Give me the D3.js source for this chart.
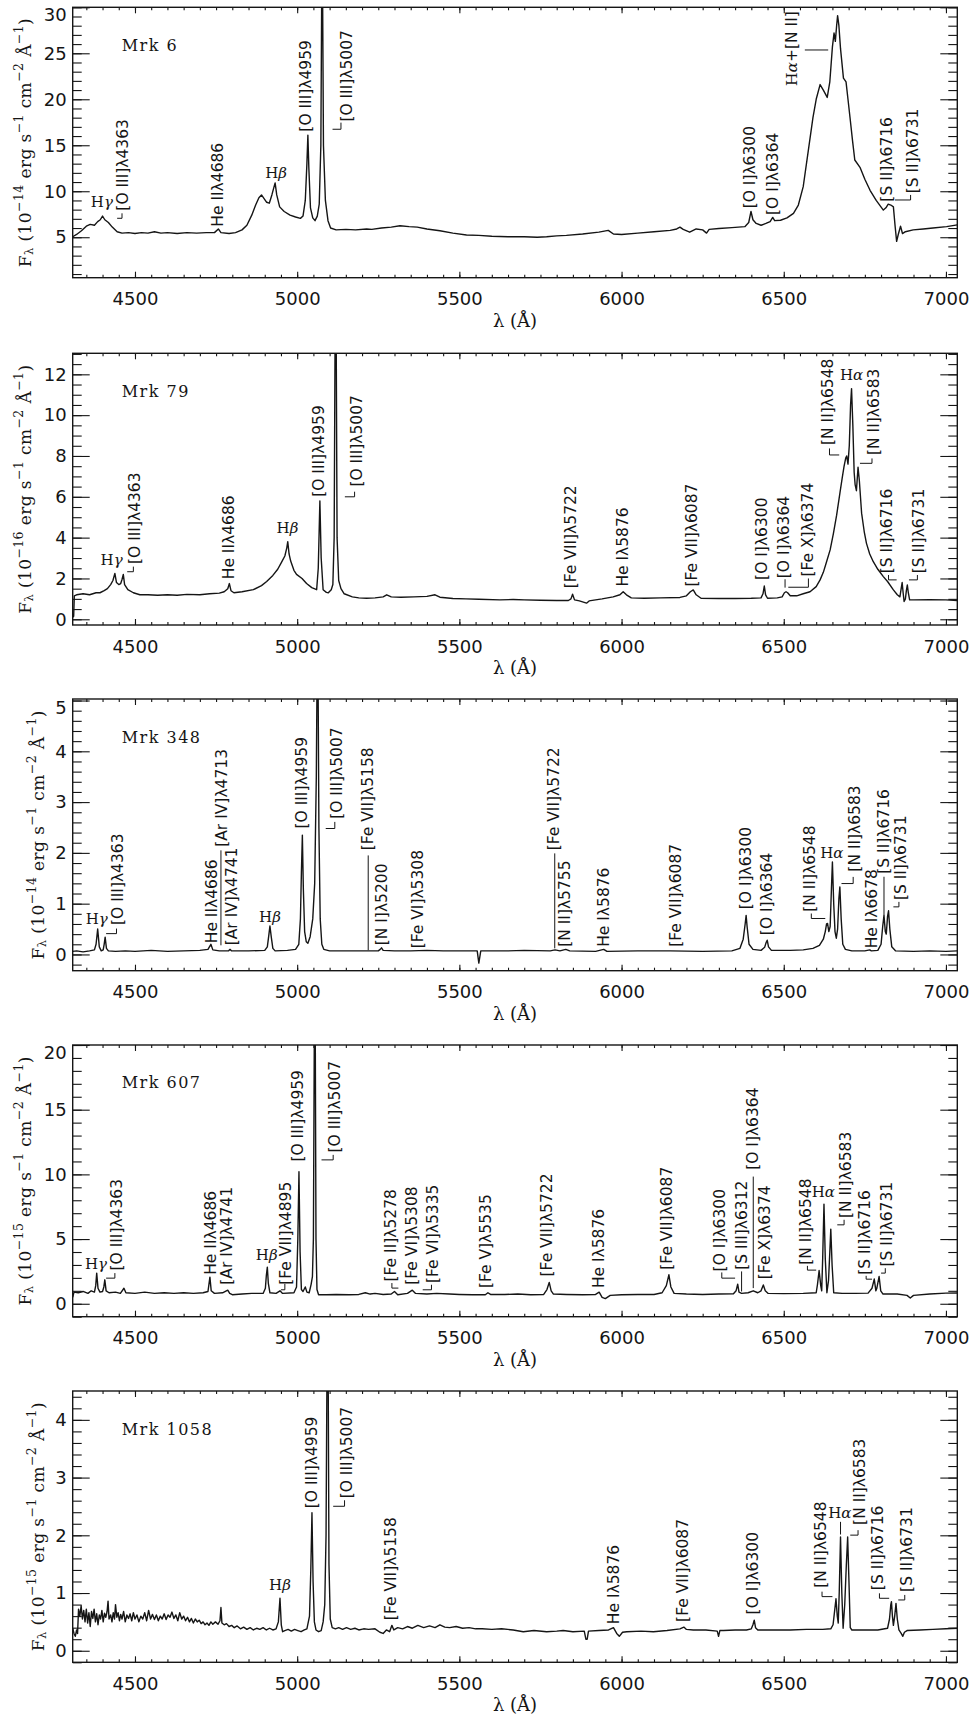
<!DOCTYPE html>
<html><head><meta charset="utf-8">
<script src="https://cdn.jsdelivr.net/npm/d3@7"></script>
<style>body{margin:0;background:#fff} svg{display:block}</style>
</head><body>
<svg id="c" width="971" height="1718"></svg>
<script>
// ---------------- DATA ----------------
const waveDomain = [4308, 7035];
const waveMajorTicks = [4500, 5000, 5500, 6000, 6500, 7000];
const waveMinorStep = 50;

const objectNames = ["Mrk 6", "Mrk 79", "Mrk 348", "Mrk 607", "Mrk 1058"];
const nameAnchors = [[4459, 25.28], [4459, 10.9], [4459, 4.17], [4459, 16.65], [4459, 3.74]];
const fluxExponents = ["\u221214", "\u221216", "\u221214", "\u221215", "\u221215"];
const fluxDomains = [[0.6, 30], [-0.28, 13.03], [-0.32, 5.03], [-1, 20], [-0.2, 4.5]];
const fluxMajorTicks = [[5, 10, 15, 20, 25, 30], [0, 2, 4, 6, 8, 10, 12], [0, 1, 2, 3, 4, 5], [0, 5, 10, 15, 20], [0, 1, 2, 3, 4]];
const fluxMinorSteps = [1, 0.5, 0.2, 1, 0.2];

const specMrk6 = [[4308,5.05],[4320,5.3],[4335,5.7],[4350,6.2],[4362,6.4],[4375,6.3],[4385,6.7],[4393,6.9],[4400,7.3],[4407,6.9],[4418,6.6],[4430,6.1],[4445,5.6],[4460,5.45],[4480,5.5],[4500,5.4],[4520,5.5],[4540,5.45],[4560,5.6],[4580,5.45],[4600,5.5],[4630,5.4],[4660,5.5],[4690,5.45],[4720,5.5],[4745,5.5],[4757,5.9],[4765,5.5],[4790,5.4],[4810,5.5],[4830,5.8],[4845,6.3],[4860,7.4],[4872,8.5],[4882,9.3],[4890,9.6],[4898,9.2],[4906,8.8],[4914,8.7],[4922,9.6],[4928,10.4],[4932,10.9],[4937,9.6],[4946,8.3],[4960,7.8],[4978,7.4],[4995,7.2],[5010,7.05],[5018,7.3],[5025,9.0],[5030,13.0],[5033,16.1],[5036,12.5],[5041,8.2],[5048,7.1],[5055,6.8],[5062,7.3],[5068,8.6],[5073,15],[5077,40],[5081,15],[5087,9.0],[5095,6.8],[5103,6.0],[5120,5.8],[5150,5.85],[5180,5.8],[5214,5.9],[5230,5.85],[5260,6.0],[5290,6.1],[5317,6.25],[5345,6.15],[5370,6.1],[5400,5.9],[5440,5.7],[5480,5.45],[5522,5.25],[5560,5.2],[5600,5.1],[5650,5.05],[5700,5.05],[5740,5.0],[5769,5.05],[5800,5.15],[5830,5.2],[5880,5.35],[5930,5.55],[5959,5.75],[5975,5.35],[6000,5.3],[6050,5.45],[6100,5.6],[6150,5.75],[6170,5.9],[6180,6.1],[6190,5.85],[6210,5.55],[6230,5.9],[6250,5.8],[6262,5.45],[6270,5.85],[6300,5.95],[6340,6.05],[6380,6.15],[6392,6.6],[6399,7.8],[6405,6.9],[6415,6.5],[6430,6.3],[6445,6.5],[6458,6.7],[6466,7.15],[6472,6.8],[6490,6.85],[6510,7.1],[6530,7.6],[6545,8.5],[6560,10.5],[6576,14.5],[6590,18.0],[6600,20.0],[6612,21.6],[6622,21.0],[6634,20.2],[6642,21.9],[6650,25.7],[6655,27.2],[6659,26.3],[6663,28.0],[6666,29.1],[6670,28.0],[6675,25.5],[6684,22.3],[6692,21.9],[6698,20.0],[6704,18.1],[6712,15.5],[6719,13.4],[6735,12.6],[6750,11.3],[6766,10.1],[6785,9.0],[6807,7.95],[6815,8.2],[6822,8.6],[6830,8.5],[6838,8.3],[6843,6.3],[6848,4.55],[6853,5.3],[6860,6.2],[6866,5.4],[6875,5.6],[6899,5.8],[6930,5.9],[6960,6.0],[7002,6.15],[7035,6.35]];

const specMrk79 = [[4308,0.1],[4311,0.15],[4313,1.15],[4320,1.2],[4340,1.25],[4360,1.2],[4380,1.3],[4392,1.3],[4405,1.4],[4415,1.5],[4425,1.7],[4432,1.9],[4438,2.25],[4443,1.8],[4450,1.7],[4456,1.75],[4460,1.95],[4464,2.2],[4468,1.7],[4478,1.45],[4495,1.3],[4515,1.2],[4540,1.2],[4570,1.18],[4600,1.2],[4630,1.18],[4660,1.22],[4700,1.2],[4730,1.25],[4760,1.28],[4775,1.35],[4786,1.5],[4791,1.75],[4796,1.4],[4805,1.3],[4830,1.35],[4865,1.45],[4890,1.65],[4906,1.85],[4925,2.15],[4940,2.45],[4952,2.8],[4962,3.1],[4968,3.5],[4971,3.8],[4975,3.2],[4980,2.85],[4990,2.4],[4998,2.2],[5015,2.0],[5029,1.75],[5045,1.55],[5060,1.45],[5065,2.5],[5070,5.8],[5074,3.0],[5080,1.45],[5090,1.32],[5096,1.3],[5105,1.45],[5110,1.7],[5114,4.0],[5118.6,20],[5123,4.0],[5128,1.9],[5135,1.5],[5145,1.25],[5170,1.1],[5190,1.05],[5214,1.03],[5240,1.05],[5265,1.1],[5276,1.2],[5290,1.1],[5320,1.08],[5360,1.1],[5400,1.12],[5425,1.2],[5440,1.08],[5480,1.02],[5520,1.0],[5560,0.98],[5625,0.95],[5666,0.97],[5700,0.95],[5750,0.93],[5800,0.92],[5836,0.92],[5844,1.0],[5849,1.23],[5855,0.95],[5870,0.9],[5892,0.79],[5900,0.9],[5940,1.0],[5974,1.1],[5995,1.2],[6005,1.35],[6015,1.2],[6030,1.05],[6070,1.03],[6120,1.05],[6180,1.07],[6200,1.15],[6212,1.35],[6221,1.44],[6230,1.2],[6245,1.03],[6300,1.02],[6350,1.02],[6400,1.03],[6430,1.05],[6436,1.25],[6440,1.63],[6444,1.2],[6450,1.03],[6480,1.05],[6495,1.1],[6502,1.3],[6507,1.35],[6512,1.3],[6520,1.15],[6540,1.15],[6560,1.25],[6581,1.35],[6600,1.6],[6612,1.93],[6622,2.3],[6632,2.82],[6643,3.4],[6653,4.2],[6663,5.1],[6673,6.17],[6680,6.9],[6686,7.5],[6691,7.9],[6694,8.0],[6698,7.6],[6702,8.5],[6706,10.5],[6709,11.3],[6713,9.5],[6717,7.2],[6720,6.6],[6724,6.3],[6729,7.45],[6733,6.8],[6740,5.2],[6748,4.3],[6755,3.72],[6765,3.2],[6776,2.82],[6790,2.45],[6807,2.09],[6820,1.85],[6838,1.44],[6850,1.2],[6858,1.1],[6862,1.5],[6865,1.8],[6868,1.3],[6871,0.87],[6875,1.0],[6878,1.4],[6881,1.68],[6884,1.3],[6888,0.95],[6900,0.95],[6950,0.96],[7000,0.95],[7035,0.92]];

const specMrk348 = [[4308,0.06],[4320,0.07],[4340,0.05],[4360,0.07],[4375,0.09],[4380,0.2],[4385,0.5],[4390,0.15],[4396,0.07],[4402,0.09],[4405,0.2],[4408,0.34],[4412,0.12],[4418,0.07],[4440,0.06],[4470,0.07],[4500,0.06],[4550,0.08],[4600,0.06],[4650,0.07],[4700,0.08],[4725,0.1],[4734,0.2],[4740,0.09],[4760,0.07],[4788,0.07],[4793,0.1],[4798,0.07],[4850,0.07],[4900,0.08],[4908,0.15],[4913,0.4],[4916,0.56],[4920,0.35],[4925,0.12],[4932,0.07],[4970,0.08],[4995,0.1],[5005,0.2],[5010,0.7],[5013,1.6],[5016,2.35],[5019,1.3],[5023,0.45],[5028,0.25],[5033,0.22],[5040,0.35],[5048,0.7],[5054,1.4],[5059,3.5],[5063,7],[5067,2.5],[5071,0.7],[5076,0.2],[5082,0.1],[5100,0.07],[5150,0.07],[5200,0.07],[5250,0.07],[5256,0.1],[5260,0.13],[5265,0.08],[5300,0.07],[5350,0.07],[5400,0.08],[5450,0.07],[5500,0.07],[5555,0.07],[5560,-0.17],[5566,0.07],[5650,0.07],[5700,0.08],[5780,0.07],[5795,0.09],[5810,0.07],[5828,0.1],[5840,0.07],[5920,0.06],[5945,0.1],[5955,0.06],[6050,0.07],[6150,0.07],[6250,0.06],[6340,0.07],[6365,0.12],[6375,0.3],[6381,0.6],[6384,0.77],[6387,0.55],[6393,0.2],[6405,0.1],[6430,0.08],[6441,0.14],[6446,0.24],[6449,0.28],[6453,0.15],[6462,0.08],[6520,0.08],[6560,0.09],[6590,0.12],[6610,0.18],[6622,0.3],[6628,0.45],[6632,0.6],[6635,0.61],[6639,0.45],[6643,0.55],[6647,1.3],[6650,1.82],[6654,1.0],[6658,0.45],[6662,0.32],[6666,0.5],[6670,1.1],[6673,1.33],[6677,0.7],[6682,0.2],[6690,0.1],[6710,0.07],[6750,0.07],[6765,0.09],[6770,0.07],[6790,0.08],[6800,0.2],[6805,0.55],[6809,0.77],[6813,0.45],[6816,0.4],[6820,0.75],[6823,0.86],[6827,0.5],[6833,0.15],[6845,0.07],[6900,0.06],[6950,0.07],[7000,0.06],[7035,0.07]];

const specMrk607 = [[4308,0.5],[4312,0.9],[4325,0.85],[4340,0.95],[4355,0.8],[4365,1.0],[4375,0.9],[4379,1.4],[4382,2.37],[4386,1.2],[4392,0.9],[4400,0.95],[4404,1.3],[4407,1.85],[4411,1.0],[4420,0.85],[4440,0.9],[4455,0.8],[4466,1.2],[4472,0.85],[4500,0.8],[4530,0.9],[4560,0.8],[4590,0.85],[4620,0.8],[4650,0.85],[4680,0.8],[4710,0.85],[4725,0.95],[4728,1.5],[4731,2.06],[4735,1.0],[4745,0.8],[4770,0.85],[4786,1.05],[4792,0.8],[4800,0.7],[4830,0.75],[4860,0.8],[4895,0.8],[4902,1.2],[4905,2.2],[4908,2.83],[4911,1.6],[4916,0.85],[4935,0.8],[4947,1.0],[4955,0.8],[4990,0.85],[4998,1.3],[5002,5],[5005.5,10.2],[5009,4],[5013,1.1],[5018,0.95],[5025,1.3],[5030,0.9],[5037,0.85],[5043,1.5],[5047,2.1],[5050,5],[5054.5,30],[5058,5],[5061,1.1],[5066,0.7],[5090,0.7],[5120,0.72],[5160,0.7],[5190,0.72],[5210,0.85],[5225,0.75],[5240,0.8],[5265,0.72],[5290,0.75],[5300,0.95],[5310,0.7],[5340,0.8],[5355,1.05],[5365,0.8],[5400,0.75],[5430,0.8],[5470,0.75],[5500,0.72],[5540,0.7],[5580,0.7],[5588,0.85],[5596,0.72],[5640,0.72],[5680,0.75],[5720,0.7],[5760,0.72],[5770,1.1],[5777,1.65],[5783,1.0],[5790,0.75],[5830,0.72],[5880,0.7],[5920,0.72],[5931,0.9],[5940,0.5],[5950,0.4],[5965,0.65],[6000,0.7],[6050,0.72],[6100,0.72],[6125,0.85],[6138,1.4],[6146,2.24],[6152,1.3],[6162,0.8],[6200,0.75],[6250,0.72],[6300,0.75],[6345,0.77],[6353,1.0],[6358,1.52],[6362,0.9],[6370,0.8],[6390,0.85],[6406,1.0],[6420,0.85],[6430,1.0],[6437,1.45],[6443,1.0],[6452,0.8],[6500,0.78],[6560,0.8],[6600,0.85],[6604,1.5],[6609,2.57],[6614,1.4],[6617,1.0],[6620,3.5],[6624,7.7],[6628,3.5],[6633,0.85],[6638,1.8],[6642,4.0],[6645,5.77],[6649,3.0],[6654,0.85],[6680,0.8],[6720,0.8],[6760,0.82],[6772,1.2],[6779,1.91],[6784,1.0],[6787,1.2],[6794,2.11],[6799,1.0],[6806,0.75],[6850,0.75],[6880,0.65],[6890,0.45],[6900,0.65],[6950,0.75],[7000,0.82],[7035,0.83]];

const specMrk1058 = [[4308,0.39],[4312,0.3],[4316,0.25],[4320,0.36],[4323,0.3],[4326,0.72],[4330,0.6],[4334,0.78],[4338,0.55],[4342,0.7],[4346,0.5],[4350,0.72],[4354,0.48],[4358,0.66],[4362,0.42],[4366,0.68],[4370,0.56],[4374,0.72],[4378,0.5],[4382,0.64],[4386,0.45],[4390,0.62],[4394,0.55],[4398,0.7],[4402,0.5],[4406,0.65],[4410,0.58],[4414,0.68],[4417,0.86],[4420,0.55],[4425,0.62],[4429,0.5],[4433,0.66],[4437,0.55],[4440,0.8],[4444,0.58],[4448,0.66],[4452,0.52],[4456,0.63],[4460,0.55],[4465,0.68],[4470,0.5],[4475,0.62],[4480,0.56],[4485,0.64],[4490,0.52],[4495,0.66],[4500,0.55],[4506,0.62],[4512,0.5],[4518,0.6],[4524,0.55],[4530,0.66],[4536,0.52],[4542,0.7],[4548,0.55],[4554,0.63],[4560,0.54],[4566,0.62],[4572,0.52],[4578,0.6],[4584,0.55],[4590,0.64],[4596,0.54],[4602,0.62],[4608,0.58],[4614,0.67],[4620,0.56],[4626,0.62],[4632,0.52],[4638,0.66],[4644,0.55],[4650,0.6],[4656,0.52],[4662,0.58],[4668,0.5],[4674,0.56],[4680,0.48],[4686,0.55],[4692,0.5],[4698,0.53],[4704,0.47],[4710,0.5],[4716,0.45],[4722,0.48],[4728,0.44],[4734,0.5],[4740,0.46],[4748,0.5],[4756,0.46],[4762,0.52],[4765,0.75],[4768,0.48],[4775,0.45],[4782,0.47],[4790,0.42],[4798,0.44],[4806,0.4],[4815,0.43],[4825,0.38],[4835,0.41],[4845,0.37],[4855,0.4],[4865,0.36],[4875,0.39],[4885,0.37],[4895,0.4],[4905,0.36],[4915,0.39],[4925,0.36],[4935,0.38],[4942,0.5],[4947,0.91],[4951,0.45],[4955,0.33],[4962,0.35],[4972,0.37],[4982,0.34],[4992,0.37],[5002,0.35],[5012,0.33],[5022,0.36],[5030,0.38],[5038,0.6],[5042,1.4],[5045.6,2.39],[5049,1.2],[5053,0.5],[5058,0.36],[5066,0.33],[5074,0.35],[5080,0.5],[5085,0.8],[5089,2.0],[5094,7],[5098,1.5],[5102,0.55],[5108,0.4],[5118,0.38],[5128,0.4],[5140,0.37],[5152,0.4],[5165,0.37],[5178,0.39],[5190,0.36],[5205,0.38],[5220,0.37],[5240,0.38],[5255,0.32],[5265,0.3],[5275,0.36],[5285,0.33],[5292,0.44],[5298,0.36],[5310,0.4],[5325,0.38],[5340,0.42],[5355,0.39],[5372,0.44],[5390,0.4],[5408,0.43],[5425,0.4],[5440,0.45],[5455,0.41],[5470,0.4],[5490,0.42],[5510,0.39],[5530,0.4],[5550,0.38],[5570,0.38],[5600,0.37],[5630,0.38],[5666,0.36],[5697,0.33],[5730,0.35],[5769,0.33],[5800,0.34],[5820,0.35],[5850,0.33],[5885,0.34],[5890,0.2],[5894,0.2],[5898,0.34],[5930,0.35],[5960,0.36],[5975,0.4],[5985,0.3],[5993,0.25],[6003,0.32],[6016,0.33],[6060,0.34],[6098,0.33],[6140,0.35],[6180,0.38],[6192,0.41],[6200,0.37],[6221,0.36],[6260,0.36],[6295,0.34],[6299,0.25],[6303,0.35],[6314,0.35],[6350,0.36],[6385,0.36],[6400,0.38],[6405,0.45],[6409,0.53],[6413,0.4],[6420,0.36],[6470,0.36],[6520,0.36],[6570,0.37],[6620,0.37],[6645,0.38],[6652,0.45],[6657,0.7],[6661,0.9],[6665,0.6],[6668,0.48],[6671,1.0],[6675,1.97],[6679,1.0],[6683,0.39],[6688,0.8],[6693,1.5],[6697,1.97],[6701,1.2],[6705,0.4],[6710,0.36],[6750,0.36],[6790,0.36],[6820,0.39],[6826,0.55],[6830,0.8],[6832,0.85],[6835,0.6],[6838,0.44],[6842,0.6],[6846,0.82],[6850,0.55],[6855,0.36],[6862,0.3],[6867,0.25],[6872,0.32],[6880,0.35],[6920,0.36],[6960,0.37],[7000,0.38],[7035,0.39]];

// line identifications: [text, wavelength, flux, kind ('v' rotated / 'h' horizontal), leader points]
const linesMrk6 = [
 ["H\u03b3",4398,8.33,"h"],
 ["[O III]\u03bb4363",4464,7.89,"v",[[4460,7.6],[4460,7.06],[4445,7.06]]],
 ["He II\u03bb4686",4757,6.15,"v"],
 ["H\u03b2",4935,11.41,"h"],
 ["[O III]\u03bb4959",5027,16.48,"v"],
 ["[O III]\u03bb5007",5152.5,17.57,"v",[[5135,17.46],[5135,16.74],[5109,16.74]]],
 ["[O I]\u03bb6300",6396,8.14,"v"],
 ["[O I]\u03bb6364",6468,7.42,"v"],
 ["H\u03b1+[N II]",6524,21.45,"v",[[6565,25.36],[6637,25.36]]],
 ["[S II]\u03bb6716",6819,8.87,"v"],
 ["[S II]\u03bb6731",6899,9.78,"v",[[6891,9.6],[6891,9.05],[6843,9.05]]]
];
const linesMrk79 = [
 ["H\u03b3",4428,2.66,"h"],
 ["[O III]\u03bb4363",4500,2.71,"v",[[4495,2.58],[4495,2.33],[4476,2.33]]],
 ["He II\u03bb4686",4791,1.96,"v"],
 ["H\u03b2",4970,4.24,"h"],
 ["[O III]\u03bb4959",5068,6.0,"v"],
 ["[O III]\u03bb5007",5183,6.5,"v",[[5177,6.25],[5177,6.0],[5147,6.0]]],
 ["[Fe VII]\u03bb5722",5843,1.52,"v"],
 ["He I\u03bb5876",6003,1.6,"v"],
 ["[Fe VII]\u03bb6087",6216,1.6,"v"],
 ["[O I]\u03bb6300",6432,1.93,"v"],
 ["[O I]\u03bb6364",6501,2.01,"v",[[6504,1.96],[6504,1.55]]],
 ["[Fe X]\u03bb6374",6576,2.09,"v",[[6576,2.0],[6576,1.57],[6514,1.57]]],
 ["[N II]\u03bb6548",6637,8.54,"v",[[6641,8.37],[6641,8.05],[6671,8.05]]],
 ["H\u03b1",6709,11.72,"h"],
 ["[N II]\u03bb6583",6778,8.05,"v",[[6772,7.88],[6772,7.64],[6735,7.64]]],
 ["[S II]\u03bb6716",6819,2.25,"v",[[6823,2.17],[6823,1.93],[6848,1.93]]],
 ["[S II]\u03bb6731",6918,2.25,"v",[[6912,2.17],[6912,1.93],[6886,1.93]]]
];
const linesMrk348 = [
 ["H\u03b3",4382,0.59,"h"],
 ["[O III]\u03bb4363",4448.6,0.58,"v",[[4443,0.51],[4443,0.41],[4411,0.41]]],
 ["He II\u03bb4686",4736,0.22,"v"],
 ["[Ar IV]\u03bb4713",4767,2.12,"v",[[4765,2.05],[4765,0.18]]],
 ["[Ar IV]\u03bb4741",4798,0.18,"v"],
 ["H\u03b2",4916,0.64,"h"],
 ["[O III]\u03bb4959",5014,2.48,"v"],
 ["[O III]\u03bb5007",5122,2.67,"v",[[5116,2.61],[5116,2.48],[5088,2.48]]],
 ["[Fe VII]\u03bb5158",5219,2.05,"v",[[5219,1.95],[5219,0.085]]],
 ["[N I]\u03bb5200",5260,0.18,"v"],
 ["[Fe VI]\u03bb5308",5373,0.12,"v"],
 ["[Fe VII]\u03bb5722",5792,2.05,"v",[[5794,1.99],[5794,0.12]]],
 ["[N II]\u03bb5755",5825.5,0.15,"v"],
 ["He I\u03bb5876",5946,0.15,"v"],
 ["[Fe VII]\u03bb6087",6168,0.15,"v"],
 ["[O I]\u03bb6300",6383.5,0.89,"v"],
 ["[O I]\u03bb6364",6447,0.38,"v"],
 ["[N II]\u03bb6548",6581,0.84,"v",[[6585,0.806],[6585,0.708],[6628,0.708]]],
 ["H\u03b1",6648,1.89,"h"],
 ["[N II]\u03bb6583",6719.5,1.63,"v",[[6714,1.527],[6714,1.396],[6678,1.396]]],
 ["He I\u03bb6678",6771,0.12,"v"],
 ["[S II]\u03bb6716",6809,1.59,"v",[[6809,1.53],[6809,0.773]]],
 ["[S II]\u03bb6731",6860,1.07,"v",[[6855,1.035],[6855,0.937],[6838,0.937]]]
];
const linesMrk607 = [
 ["H\u03b3",4380,2.68,"h"],
 ["[O III]\u03bb4363",4443.5,2.57,"v",[[4438,2.37],[4438,1.98],[4411,1.98]]],
 ["He II\u03bb4686",4733,2.24,"v"],
 ["[Ar IV]\u03bb4741",4784.6,1.47,"v"],
 ["H\u03b2",4906,3.4,"h"],
 ["[Fe VII]\u03bb4895",4965.5,1.47,"v",[[4962,1.54],[4962,1.08],[4950,1.08]]],
 ["[O III]\u03bb4959",5001.4,10.99,"v"],
 ["[O III]\u03bb5007",5116.5,11.69,"v",[[5111,11.51],[5111,11.12],[5075,11.12]]],
 ["[Fe II]\u03bb5278",5288,1.72,"v",[[5292,1.6],[5292,1.21],[5312,1.21]]],
 ["[Fe VI]\u03bb5308",5353,1.47,"v"],
 ["[Fe VI]\u03bb5335",5420,1.6,"v",[[5414,1.47],[5414,1.08],[5387,1.08]]],
 ["[Fe V]\u03bb5535",5581,1.21,"v"],
 ["[Fe VII]\u03bb5722",5769,2.11,"v"],
 ["He I\u03bb5876",5931,1.21,"v"],
 ["[Fe VII]\u03bb6087",6141,2.63,"v"],
 ["[O I]\u03bb6300",6305,2.5,"v",[[6309,2.42],[6309,1.98],[6350,1.98]]],
 ["[S III]\u03bb6312",6370,2.63,"v",[[6370,2.5],[6370,0.95]]],
 ["[O I]\u03bb6364",6406,10.35,"v",[[6406,9.83],[6406,1.21]]],
 ["[Fe X]\u03bb6374",6442,1.9,"v"],
 ["[N II]\u03bb6548",6568.5,3.01,"v",[[6573,2.93],[6573,2.6],[6600,2.6]]],
 ["H\u03b1",6622,8.29,"h"],
 ["[N II]\u03bb6583",6692,6.62,"v",[[6686,6.49],[6686,6.1],[6665,6.1]]],
 ["[S II]\u03bb6716",6750,2.24,"v",[[6754,2.16],[6754,1.9],[6772,1.9]]],
 ["[S II]\u03bb6731",6819,2.88,"v",[[6813,2.75],[6813,2.37],[6800,2.37]]]
];
const linesMrk1058 = [
 ["H\u03b2",4947,1.05,"h"],
 ["[O III]\u03bb4959",5044.6,2.47,"v"],
 ["[O III]\u03bb5007",5152.5,2.64,"v",[[5146,2.607],[5146,2.503],[5111,2.503]]],
 ["[Fe VII]\u03bb5158",5288,0.53,"v"],
 ["He I\u03bb5876",5976.6,0.46,"v"],
 ["[Fe VII]\u03bb6087",6190,0.5,"v"],
 ["[O I]\u03bb6300",6406,0.63,"v"],
 ["[N II]\u03bb6548",6613.6,1.09,"v",[[6618,1.024],[6618,0.938],[6650,0.938]]],
 ["H\u03b1",6673,2.3,"h",[[6675,2.233],[6675,2.014]]],
 ["[N II]\u03bb6583",6735,2.18,"v",[[6729,2.089],[6729,2.003],[6705,2.003]]],
 ["[S II]\u03bb6716",6791,1.05,"v",[[6795,0.995],[6795,0.909],[6825,0.909]]],
 ["[S II]\u03bb6731",6879,1.02,"v",[[6873,0.967],[6873,0.88],[6853,0.88]]]
];

const spectra = [specMrk6, specMrk79, specMrk348, specMrk607, specMrk1058];
const lineIds = [linesMrk6, linesMrk79, linesMrk348, linesMrk607, linesMrk1058];

// ---------------- LAYOUT ----------------
const L = {
  left: 72.7, right: 957.3,
  panels: [[7.3, 277.7], [353.3, 625], [699, 970.7], [1045, 1316.7], [1391, 1662.3]],
  yTitleX: [25, 25, 38, 25, 38]
};
const INK = "#151515";
const SANS = "DejaVu Sans";
const SERIF = "DejaVu Serif";

const svg = d3.select("#c");
const x = d3.scaleLinear().domain(waveDomain).range([L.left, L.right]);
const waveMinor = d3.range(Math.ceil(waveDomain[0] / waveMinorStep), Math.floor(waveDomain[1] / waveMinorStep) + 1).map(k => k * waveMinorStep);

function richText(sel, str) {
  const m = str.match(/^H([\u03b1\u03b2\u03b3])(.*)$/);
  if (m) {
    sel.append("tspan").attr("font-family", SERIF).text("H");
    sel.append("tspan").attr("font-family", SERIF).attr("font-style", "italic").text(m[1]);
    if (m[2]) sel.append("tspan").attr("font-family", SANS).text(m[2]);
  } else sel.text(str);
}

function styleAxis(g) {
  g.select(".domain").remove();
  g.selectAll(".tick line").attr("stroke", INK).attr("stroke-width", 1.1);
  g.selectAll(".tick text").attr("fill", INK).attr("font-family", SANS).attr("font-size", 18);
  g.attr("font-family", null).attr("font-size", null);
}

objectNames.forEach((name, i) => {
  const [top, bottom] = L.panels[i];
  const y = d3.scaleLinear().domain(fluxDomains[i]).range([bottom, top]);
  const g = svg.append("g");
  const cid = "clip" + i;
  svg.append("clipPath").attr("id", cid).append("rect")
    .attr("x", L.left).attr("y", top).attr("width", L.right - L.left).attr("height", bottom - top);

  // spectrum
  g.append("path").datum(spectra[i])
    .attr("clip-path", `url(#${cid})`)
    .attr("d", d3.line().x(d => x(d[0])).y(d => y(d[1])))
    .attr("fill", "none").attr("stroke", INK).attr("stroke-width", 1.4).attr("stroke-linejoin", "round");

  // axes
  const st = fluxMinorSteps[i], dom = fluxDomains[i];
  const yMinor = d3.range(Math.ceil(dom[0] / st - 1e-9), Math.floor(dom[1] / st + 1e-9) + 1).map(k => +(k * st).toFixed(4));
  g.append("g").attr("transform", `translate(0,${bottom})`)
    .call(d3.axisBottom(x).tickValues(waveMajorTicks).tickSize(-6).tickPadding(15).tickFormat(d3.format("d"))).call(styleAxis);
  g.append("g").attr("transform", `translate(0,${bottom})`)
    .call(d3.axisBottom(x).tickValues(waveMinor).tickSize(-3).tickFormat("")).call(styleAxis);
  g.append("g").attr("transform", `translate(0,${top})`)
    .call(d3.axisTop(x).tickValues(waveMajorTicks).tickSize(-6).tickFormat("")).call(styleAxis);
  g.append("g").attr("transform", `translate(0,${top})`)
    .call(d3.axisTop(x).tickValues(waveMinor).tickSize(-3).tickFormat("")).call(styleAxis);
  const yAx = g.append("g").attr("transform", `translate(${L.left},0)`)
    .call(d3.axisLeft(y).tickValues(fluxMajorTicks[i]).tickSize(-17).tickPadding(6).tickFormat(d3.format("d"))).call(styleAxis);
  // a label sitting on the top frame is nudged down to stay inside the figure (as in the original)
  yAx.selectAll(".tick text").filter(d => Math.abs(y(d) - top) < 4).attr("dy", "13.2px");
  g.append("g").attr("transform", `translate(${L.left},0)`)
    .call(d3.axisLeft(y).tickValues(yMinor).tickSize(-9).tickFormat("")).call(styleAxis);
  g.append("g").attr("transform", `translate(${L.right},0)`)
    .call(d3.axisRight(y).tickValues(fluxMajorTicks[i]).tickSize(-17).tickFormat("")).call(styleAxis);
  g.append("g").attr("transform", `translate(${L.right},0)`)
    .call(d3.axisRight(y).tickValues(yMinor).tickSize(-9).tickFormat("")).call(styleAxis);

  // frame
  g.append("rect").attr("x", L.left).attr("y", top).attr("width", L.right - L.left).attr("height", bottom - top)
    .attr("fill", "none").attr("stroke", INK).attr("stroke-width", 1.4);

  // x title
  g.append("text").attr("x", (L.left + L.right) / 2).attr("y", bottom + 49)
    .attr("text-anchor", "middle").attr("font-family", SERIF).attr("font-size", 18).attr("fill", INK)
    .text("\u03bb (\u00c5)");

  // y title
  const yt = g.append("text")
    .attr("transform", `translate(${L.yTitleX[i]},${(top + bottom) / 2}) rotate(-90)`)
    .attr("text-anchor", "middle").attr("dominant-baseline", "central")
    .attr("font-family", SERIF).attr("font-size", 17).attr("letter-spacing", 0.4).attr("fill", INK);
  const parts = [["F", 0, 17], ["\u03bb", 4, 11.5], [" (10", -4, 17], [fluxExponents[i], -7, 12.5], [" erg s", 7, 17], ["\u22121", -7, 12.5],
                 [" cm", 7, 17], ["\u22122", -7, 12.5], [" \u00c5", 7, 17], ["\u22121", -7, 12.5], [")", 7, 17]];
  parts.forEach(([t, dy, fs]) => yt.append("tspan").attr("dy", dy).attr("font-size", fs).text(t));

  // object name
  g.append("text").attr("x", x(nameAnchors[i][0])).attr("y", y(nameAnchors[i][1]))
    .attr("font-family", SERIF).attr("font-size", 16).attr("letter-spacing", 1.5).attr("fill", INK).text(name);

  // line identifications
  lineIds[i].forEach(([t, w, f, kind, lead]) => {
    if (kind === "v") {
      const tx = g.append("text")
        .attr("transform", `translate(${x(w)},${y(f)}) rotate(-90)`)
        .attr("dominant-baseline", "central").attr("text-anchor", "start")
        .attr("font-family", SANS).attr("font-size", 15.5).attr("fill", INK);
      richText(tx, t);
    } else {
      const tx = g.append("text").attr("x", x(w)).attr("y", y(f))
        .attr("text-anchor", "middle").attr("font-family", SERIF).attr("font-size", 15).attr("fill", INK);
      richText(tx, t);
    }
    if (lead) {
      g.append("path").datum(lead)
        .attr("d", d3.line().x(d => x(d[0])).y(d => y(d[1])))
        .attr("fill", "none").attr("stroke", INK).attr("stroke-width", 1);
    }
  });
});
</script>
</body></html>
